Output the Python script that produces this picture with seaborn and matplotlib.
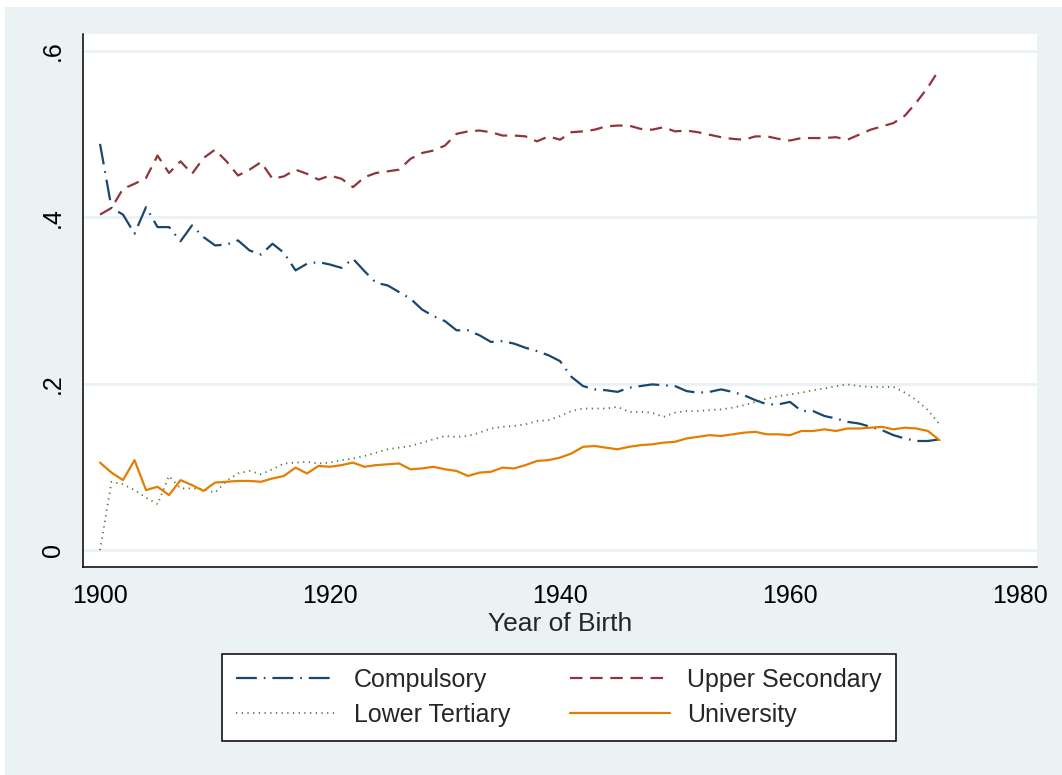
import numpy as np
import pandas as pd
import matplotlib
matplotlib.use("Agg")
import matplotlib.pyplot as plt
from matplotlib.patches import Rectangle
import seaborn as sns

# dati (quota per anno di nascita)
anni = list(range(1900, 1974))

compulsory = [
    .488, .411, .403, .380, .412, .388, .388, .371, .390, .376,
    .366, .367, .372, .360, .355, .368, .357, .336, .344, .346,
    .343, .339, .350, .335, .321, .318, .310, .302, .289, .281,
    .275, .264, .264, .258, .250, .251, .248, .243, .239, .234,
    .227, .208, .197, .193, .192, .190, .195, .197, .199, .198,
    .197, .191, .189, .190, .193, .190, .186, .180, .175, .175,
    .178, .167, .167, .161, .158, .154, .152, .148, .144, .138,
    .134, .131, .131, .133,
]

upper_secondary = [
    .403, .411, .434, .440, .447, .474, .453, .467, .452, .471,
    .481, .467, .450, .457, .466, .446, .449, .457, .452, .445,
    .450, .446, .436, .448, .453, .455, .457, .470, .477, .480,
    .486, .500, .503, .504, .502, .498, .498, .497, .491, .497,
    .493, .502, .503, .505, .509, .510, .510, .506, .505, .508,
    .503, .504, .502, .499, .496, .494, .493, .497, .497, .494,
    .492, .495, .495, .495, .496, .493, .499, .505, .509, .513,
    .522, .538, .556, .578,
]

lower_tertiary = [
    .000, .082, .079, .072, .063, .055, .089, .074, .074, .073,
    .069, .083, .092, .095, .091, .097, .104, .105, .106, .104,
    .105, .108, .110, .113, .117, .121, .123, .125, .129, .133,
    .137, .136, .137, .141, .146, .148, .149, .151, .155, .156,
    .161, .167, .170, .170, .170, .172, .166, .166, .165, .160,
    .165, .167, .167, .168, .169, .171, .174, .178, .182, .185,
    .187, .189, .192, .194, .197, .199, .197, .196, .196, .196,
    .189, .180, .168, .151,
]

university = [
    .105, .093, .084, .108, .072, .076, .066, .084, .078, .071,
    .081, .082, .083, .083, .082, .086, .089, .099, .092, .101,
    .100, .102, .105, .100, .102, .103, .104, .097, .098, .100,
    .097, .095, .089, .093, .094, .099, .098, .102, .107, .108,
    .111, .116, .124, .125, .123, .121, .124, .126, .127, .129,
    .130, .134, .136, .138, .137, .139, .141, .142, .139, .139,
    .138, .143, .143, .145, .143, .146, .146, .147, .148, .145,
    .147, .146, .143, .132,
]

x_ticks = [1900, 1920, 1940, 1960, 1980]
y_ticks = [0, .2, .4, .6]
y_tick_labels = ["0", ".2", ".4", ".6"]

# colori stile Stata s2color
NAVY = "#1A476F"
MAROON = "#90353B"
GREEN = "#55752F"
ORANGE = "#E37E00"
BG = "#EAF2F3"

sns.set_style("white")
plt.rcParams["font.family"] = ["Liberation Sans", "DejaVu Sans"]
plt.rcParams["lines.scale_dashes"] = False

fig = plt.figure(figsize=(10.62, 7.75), dpi=100, facecolor="white")
fig.patches.append(Rectangle((5 / 1062, 0), 1, 1 - 7 / 775,
                             transform=fig.transFigure, facecolor=BG,
                             edgecolor="none", zorder=-10))
ax = fig.add_axes([83 / 1062, 1 - 567 / 775, (1037 - 83) / 1062, (567 - 34) / 775])
ax.set_facecolor("white")

serie = [
    ("Compulsory", compulsory, NAVY, (0, (15, 5, 1.2, 5)), 1.6),
    ("Upper Secondary", upper_secondary, MAROON, (0, (9, 5.5)), 1.6),
    ("Lower Tertiary", lower_tertiary, GREEN, (0, (0.9, 3.2)), 1.3),
    ("University", university, ORANGE, "-", 1.6),
]

for nome, valori, colore, stile, lw in serie:
    sns.lineplot(x=anni, y=valori, ax=ax, color=colore, linestyle=stile,
                 linewidth=lw, label=nome, legend=False, zorder=3)

ax.set_xlim(1898.52, 1981.48)
ax.set_ylim(-0.0204, 0.620)
ax.set_xticks(x_ticks)
ax.set_yticks(y_ticks)
ax.set_yticklabels(y_tick_labels, rotation=90, va="center")
ax.tick_params(axis="both", direction="out", length=7, width=1.1,
               color="black", labelsize=18, pad=6, labelcolor="black")
ax.tick_params(axis="x", pad=5)
for y in y_ticks:
    ax.axhline(y, color=BG, linewidth=2, zorder=1)

for lato in ["top", "right"]:
    ax.spines[lato].set_visible(False)
for lato in ["left", "bottom"]:
    ax.spines[lato].set_color("black")
    ax.spines[lato].set_linewidth(1.1)

ax.set_xlabel("Year of Birth", fontsize=19, labelpad=3)
ax.set_ylabel("")

# legenda: due colonne, riempite per colonna
linee = ax.get_lines()
handles = [linee[0], linee[2], linee[1], linee[3]]
labels = ["Compulsory", "Lower Tertiary", "Upper Secondary", "University"]
leg = fig.legend(handles, labels, loc="center", bbox_to_anchor=(559 / 1062, 1 - 697.5 / 775),
                 ncol=2, fontsize=18, frameon=True, fancybox=False,
                 edgecolor="black", facecolor="white", framealpha=1,
                 handlelength=4.0, handletextpad=0.7, columnspacing=2.4,
                 labelspacing=0.45, borderpad=0.55, borderaxespad=0)
leg.get_frame().set_linewidth(1.1)

fig.savefig("out.png", dpi=100, facecolor=fig.get_facecolor())
